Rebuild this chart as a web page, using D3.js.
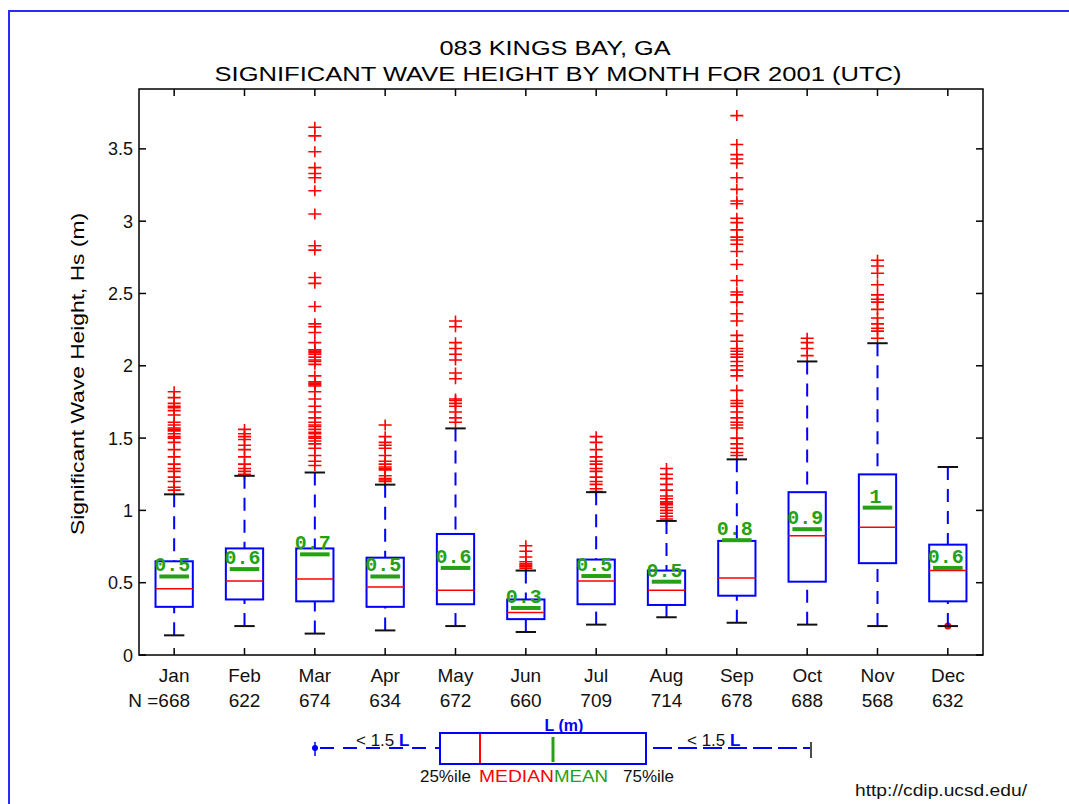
<!DOCTYPE html>
<html><head><meta charset="utf-8">
<script src="https://cdn.jsdelivr.net/npm/d3@7"></script>
<style>body{margin:0;background:#fff}svg{display:block}</style>
</head><body>
<svg id="c" width="1069" height="804"></svg>
<script>
// ---------- data ----------
const months = ["Jan","Feb","Mar","Apr","May","Jun","Jul","Aug","Sep","Oct","Nov","Dec"];
const nCounts = [668,622,674,634,672,660,709,714,678,688,568,632];
const whiskLo = [0.136,0.20,0.148,0.17,0.20,0.159,0.21,0.261,0.223,0.21,0.20,0.20];
const q1      = [0.333,0.384,0.371,0.333,0.351,0.248,0.351,0.346,0.41,0.507,0.635,0.371];
const medians = [0.458,0.512,0.525,0.471,0.448,0.294,0.512,0.448,0.533,0.824,0.883,0.584];
const means   = [0.543,0.594,0.696,0.543,0.602,0.325,0.546,0.507,0.794,0.870,1.019,0.602];
const q3      = [0.648,0.737,0.737,0.673,0.837,0.384,0.66,0.584,0.789,1.126,1.249,0.763];
const whiskHi = [1.111,1.239,1.262,1.178,1.567,0.584,1.126,0.927,1.353,2.03,2.156,1.30];
const outliers = [
  [1.82,1.78,1.74,1.72,1.71,1.69,1.66,1.61,1.59,1.57,1.56,1.55,1.53,1.51,1.50,1.47,1.42,1.37,1.32,1.29,1.27,1.23,1.20,1.16,1.14],
  [1.56,1.53,1.51,1.49,1.45,1.42,1.37,1.32,1.29,1.27,1.25],
  [3.65,3.59,3.48,3.37,3.33,3.30,3.21,3.05,2.83,2.80,2.61,2.57,2.41,2.29,2.27,2.23,2.16,2.11,2.10,2.09,2.08,2.06,2.04,2.03,2.01,1.93,1.89,1.88,1.87,1.86,1.82,1.77,1.72,1.68,1.64,1.61,1.59,1.58,1.56,1.54,1.53,1.51,1.50,1.48,1.46,1.43,1.38,1.34,1.31],
  [1.59,1.51,1.47,1.45,1.43,1.38,1.34,1.32,1.30,1.29,1.28,1.24,1.22,1.21,1.20],
  [2.31,2.27,2.16,2.12,2.08,2.04,1.95,1.91,1.77,1.76,1.74,1.72,1.68,1.64,1.61],
  [0.755,0.717,0.678,0.645,0.63,0.62,0.61,0.60],
  [1.51,1.47,1.42,1.37,1.34,1.32,1.29,1.27,1.23,1.20,1.18,1.15,1.13],
  [1.29,1.25,1.22,1.18,1.14,1.10,1.08,1.06,1.05,1.04,1.02,1.00,0.98,0.96,0.94],
  [3.73,3.53,3.46,3.43,3.40,3.30,3.22,3.14,3.12,3.02,2.99,2.94,2.89,2.87,2.84,2.79,2.70,2.59,2.51,2.49,2.44,2.36,2.31,2.21,2.17,2.12,2.10,2.08,2.06,2.03,2.00,1.97,1.93,1.83,1.76,1.74,1.72,1.68,1.64,1.61,1.59,1.57,1.50,1.46,1.43,1.40,1.38],
  [2.19,2.16,2.12,2.07],
  [2.73,2.69,2.64,2.56,2.49,2.46,2.44,2.39,2.33,2.29,2.26,2.24,2.19],
  []
];
const lowPoints = [[],[],[],[],[],[],[],[],[],[],[],[0.20]];
const yTicks = [0,0.5,1,1.5,2,2.5,3,3.5];
const yTickLabels = ["0","0.5","1","1.5","2","2.5","3","3.5"];
const yMax = 3.914;

// ---------- layout ----------
const svg = d3.select("#c");
const L = 139, R = 983, T = 89, B = 655;
const x = d3.scaleLinear().domain([0.5, 12.5]).range([L, R]);
const y = d3.scaleLinear().domain([0, yMax]).range([B, T]);
const font = "'Liberation Sans', Arial, Helvetica, sans-serif";
const BLUE = "#0000ff", RED = "#ff0000", GREEN = "#26a014";

// frame
svg.append("rect").attr("x",9).attr("y",11).attr("width",1200).attr("height",900)
  .attr("fill","none").attr("stroke","#2a2aff").attr("stroke-width",2);

// title
svg.append("text").attr("x",555).attr("y",55).attr("text-anchor","middle")
  .attr("font-family",font).attr("font-size",20).attr("textLength",231).attr("lengthAdjust","spacingAndGlyphs")
  .text("083 KINGS BAY, GA");
svg.append("text").attr("x",558).attr("y",81).attr("text-anchor","middle")
  .attr("font-family",font).attr("font-size",20).attr("textLength",687).attr("lengthAdjust","spacingAndGlyphs")
  .text("SIGNIFICANT WAVE HEIGHT BY MONTH FOR 2001 (UTC)");

// y label
svg.append("text").attr("transform","translate(84,374) rotate(-90)").attr("text-anchor","middle")
  .attr("font-family",font).attr("font-size",18).attr("textLength",322).attr("lengthAdjust","spacingAndGlyphs")
  .text("Significant Wave Height, Hs (m)");

// axes box
svg.append("rect").attr("x",L).attr("y",T).attr("width",R-L).attr("height",B-T)
  .attr("fill","none").attr("stroke","#000").attr("stroke-width",1.5);
const g = svg.append("g");
yTicks.forEach((v,i)=>{
  g.append("line").attr("x1",L).attr("x2",L+7).attr("y1",y(v)).attr("y2",y(v)).attr("stroke","#000").attr("stroke-width",1.5);
  g.append("line").attr("x1",R-7).attr("x2",R).attr("y1",y(v)).attr("y2",y(v)).attr("stroke","#000").attr("stroke-width",1.5);
  g.append("text").attr("x",133).attr("y",y(v)+6.5).attr("text-anchor","end")
    .attr("font-family",font).attr("font-size",18).attr("fill","#111").text(yTickLabels[i]);
});
months.forEach((m,i)=>{
  const cx = x(i+1);
  g.append("line").attr("x1",cx).attr("x2",cx).attr("y1",B).attr("y2",B-7).attr("stroke","#000").attr("stroke-width",1.5);
  g.append("line").attr("x1",cx).attr("x2",cx).attr("y1",T).attr("y2",T+7).attr("stroke","#000").attr("stroke-width",1.5);
  g.append("text").attr("x",cx).attr("y",682).attr("text-anchor","middle")
    .attr("font-family",font).attr("font-size",19).attr("fill","#111").text(m);
  const nt = g.append("text").attr("x",cx).attr("y",707).attr("text-anchor","middle")
    .attr("font-family",font).attr("font-size",19).attr("fill","#111").text(nCounts[i]);
  if(i===0){
    const w = nt.node().getComputedTextLength();
    g.append("text").attr("x",cx-w/2).attr("y",707).attr("text-anchor","end")
      .attr("font-family",font).attr("font-size",19).attr("fill","#111").text("N =");
  }
});

// boxes
const bw = 0.53, mw = 0.42, cw = 0.29;
const plus = "M-6.5,0H6.5M0,-5.5V5.5";
months.forEach((m,i)=>{
  const c = i+1;
  const gb = svg.append("g");
  outliers[i].forEach(v=>{
    gb.append("path").attr("d",plus).attr("transform",`translate(${x(c)},${y(v)})`)
      .attr("stroke",RED).attr("stroke-width",1.6).attr("fill","none");
  });
  lowPoints[i].forEach(v=>{
    gb.append("circle").attr("cx",x(c)).attr("cy",y(v)).attr("r",3.5).attr("fill",RED);
  });
  gb.append("rect").attr("x",x(c-bw/2)).attr("y",y(q3[i])).attr("width",x(c+bw/2)-x(c-bw/2))
    .attr("height",y(q1[i])-y(q3[i])).attr("fill","none").attr("stroke",BLUE).attr("stroke-width",2);
  gb.append("line").attr("x1",x(c-bw/2)).attr("x2",x(c+bw/2)).attr("y1",y(medians[i])).attr("y2",y(medians[i]))
    .attr("stroke",RED).attr("stroke-width",1.5);
  gb.append("line").attr("x1",x(c-mw/2)).attr("x2",x(c+mw/2)).attr("y1",y(means[i])).attr("y2",y(means[i]))
    .attr("stroke",GREEN).attr("stroke-width",4);
  gb.append("text").attr("x",x(c)-2).attr("y",y(means[i])-5).attr("text-anchor","middle")
    .attr("font-family","'Liberation Mono','DejaVu Sans Mono',monospace").attr("font-weight","bold")
    .attr("font-size",20).attr("fill",GREEN).text(String(Math.round(means[i]*10)/10));
  gb.append("line").attr("x1",x(c)).attr("x2",x(c)).attr("y1",y(whiskHi[i])).attr("y2",y(q3[i]))
    .attr("stroke",BLUE).attr("stroke-width",2).attr("stroke-dasharray","13,9");
  gb.append("line").attr("x1",x(c)).attr("x2",x(c)).attr("y1",y(whiskLo[i])).attr("y2",y(q1[i]))
    .attr("stroke",BLUE).attr("stroke-width",2).attr("stroke-dasharray","13,9");
  [whiskHi[i], whiskLo[i]].forEach(v=>{
    gb.append("line").attr("x1",x(c-cw/2)).attr("x2",x(c+cw/2)).attr("y1",y(v)).attr("y2",y(v))
      .attr("stroke","#111").attr("stroke-width",2);
  });
});

// legend
const lg = svg.append("g");
const ly = 748;
lg.append("line").attr("x1",316).attr("x2",439).attr("y1",ly).attr("y2",ly).attr("stroke",BLUE).attr("stroke-width",2).attr("stroke-dasharray","14,9").attr("stroke-dashoffset",-4);
lg.append("line").attr("x1",646).attr("x2",810).attr("y1",ly).attr("y2",ly).attr("stroke",BLUE).attr("stroke-width",2).attr("stroke-dasharray","19,6").attr("stroke-dashoffset",-7);
lg.append("circle").attr("cx",315).attr("cy",ly).attr("r",3).attr("fill",BLUE);
lg.append("line").attr("x1",315).attr("x2",315).attr("y1",742).attr("y2",756).attr("stroke",BLUE).attr("stroke-width",1.5);
lg.append("line").attr("x1",811).attr("x2",811).attr("y1",742).attr("y2",758).attr("stroke","#111").attr("stroke-width",1.5);
lg.append("rect").attr("x",440).attr("y",733).attr("width",206).attr("height",31).attr("fill","#fff").attr("stroke",BLUE).attr("stroke-width",2);
lg.append("line").attr("x1",480).attr("x2",480).attr("y1",734).attr("y2",763).attr("stroke",RED).attr("stroke-width",2);
lg.append("line").attr("x1",553).attr("x2",553).attr("y1",737).attr("y2",762).attr("stroke",GREEN).attr("stroke-width",3);
lg.append("text").attr("x",564).attr("y",731).attr("text-anchor","middle").attr("font-family",font)
  .attr("font-weight","bold").attr("font-size",16).attr("fill",BLUE).text("L (m)");
[356,687].forEach(sx=>{
  const t = lg.append("text").attr("x",sx).attr("y",746).attr("font-family",font).attr("font-size",17).attr("fill","#111");
  t.append("tspan").text("< 1.5 ");
  t.append("tspan").attr("fill",BLUE).attr("font-weight","bold").text("L");
});
lg.append("text").attr("x",471).attr("y",782).attr("text-anchor","end").attr("font-family",font).attr("font-size",17).attr("fill","#111").text("25%ile");
lg.append("text").attr("x",479).attr("y",782).attr("font-family",font).attr("font-size",17).attr("fill",RED).attr("textLength",75).attr("lengthAdjust","spacingAndGlyphs").text("MEDIAN");
lg.append("text").attr("x",554).attr("y",782).attr("font-family",font).attr("font-size",17).attr("fill",GREEN).attr("textLength",54).attr("lengthAdjust","spacingAndGlyphs").text("MEAN");
lg.append("text").attr("x",623).attr("y",782).attr("font-family",font).attr("font-size",17).attr("fill","#111").text("75%ile");

svg.append("text").attr("x",855).attr("y",796).attr("font-family",font).attr("font-size",16).attr("fill","#111")
  .attr("textLength",172).attr("lengthAdjust","spacingAndGlyphs").text("http://cdip.ucsd.edu/");
</script>
</body></html>
